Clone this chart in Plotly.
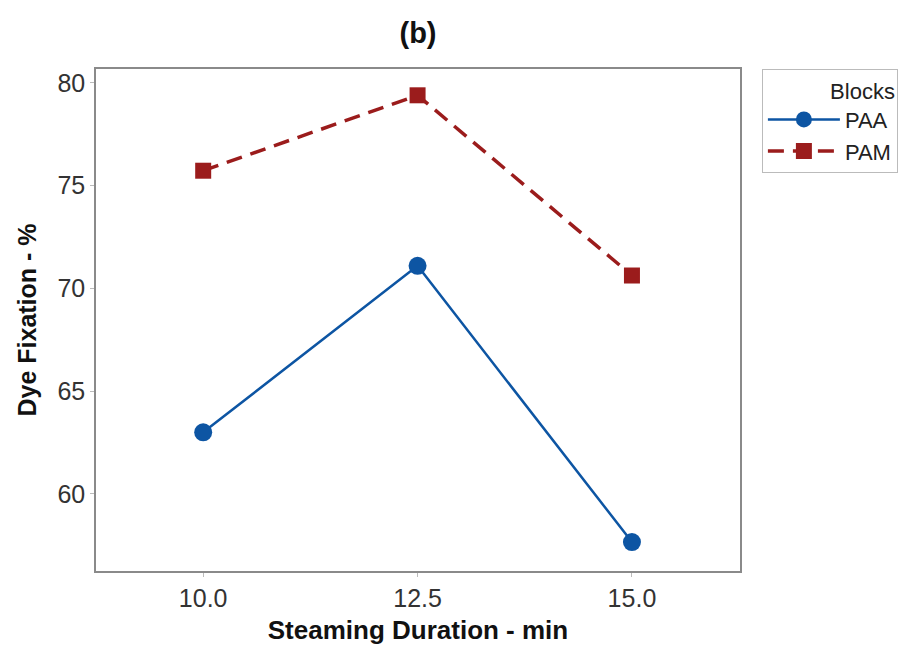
import plotly.graph_objects as go

x_vals = [10.0, 12.5, 15.0]
paa = [63.0, 71.1, 57.66]
pam = [75.73, 79.4, 70.63]
x_ticks = [10.0, 12.5, 15.0]
x_tick_labels = ["10.0", "12.5", "15.0"]
y_ticks = [60, 65, 70, 75, 80]

fig = go.Figure()
fig.add_trace(go.Scatter(
    x=x_vals, y=paa, name="PAA", mode="lines+markers",
    line=dict(color="#0d55a3", width=2.5, dash="solid"),
    marker=dict(symbol="circle", size=18, color="#0d55a3"),
))
fig.add_trace(go.Scatter(
    x=x_vals, y=pam, name="PAM", mode="lines+markers",
    line=dict(color="#9b1c1c", width=3.5, dash="16px,9px"),
    marker=dict(symbol="square", size=16, color="#9b1c1c"),
))

fig.update_layout(
    width=916, height=648,
    margin=dict(l=96, r=176, t=69, b=77, autoexpand=False),
    paper_bgcolor="white", plot_bgcolor="white",
    font=dict(family="Liberation Sans, Arial, sans-serif", color="#333"),
    title=dict(text="<b>(b)</b>", x=(96 + 644 / 2) / 916, xanchor="center",
               y=1 - 33 / 648, yanchor="middle",
               font=dict(size=29, color="#111")),
    xaxis=dict(
        range=[8.75, 16.26], tickvals=x_ticks, ticktext=x_tick_labels,
        showgrid=False, zeroline=False, showline=True, mirror=True,
        linecolor="#8a8a8a", linewidth=1.5,
        ticks="outside", ticklen=4, tickcolor="#bbb",
        tickfont=dict(size=25, color="#333"),
        title=dict(text="<b>Steaming Duration - min</b>", font=dict(size=26, color="#111"), standoff=10),
    ),
    yaxis=dict(
        range=[56.25, 80.68], tickvals=y_ticks,
        showgrid=False, zeroline=False, showline=True, mirror=True,
        linecolor="#8a8a8a", linewidth=1.5,
        ticks="outside", ticklen=4, tickcolor="#bbb",
        tickfont=dict(size=25, color="#333"),
        title=dict(text="<b>Dye Fixation - %</b>", font=dict(size=25, color="#111"), standoff=14),
    ),
    legend=dict(
        x=1.034, y=1.0, xanchor="left", yanchor="top",
        bordercolor="#bbb", borderwidth=1, bgcolor="white",
        title=dict(text="Blocks", side="top right", font=dict(size=22, color="#222")),
        font=dict(size=22, color="#222"),
        itemwidth=72, tracegroupgap=2,
    ),
)

fig.write_html("out.html")
